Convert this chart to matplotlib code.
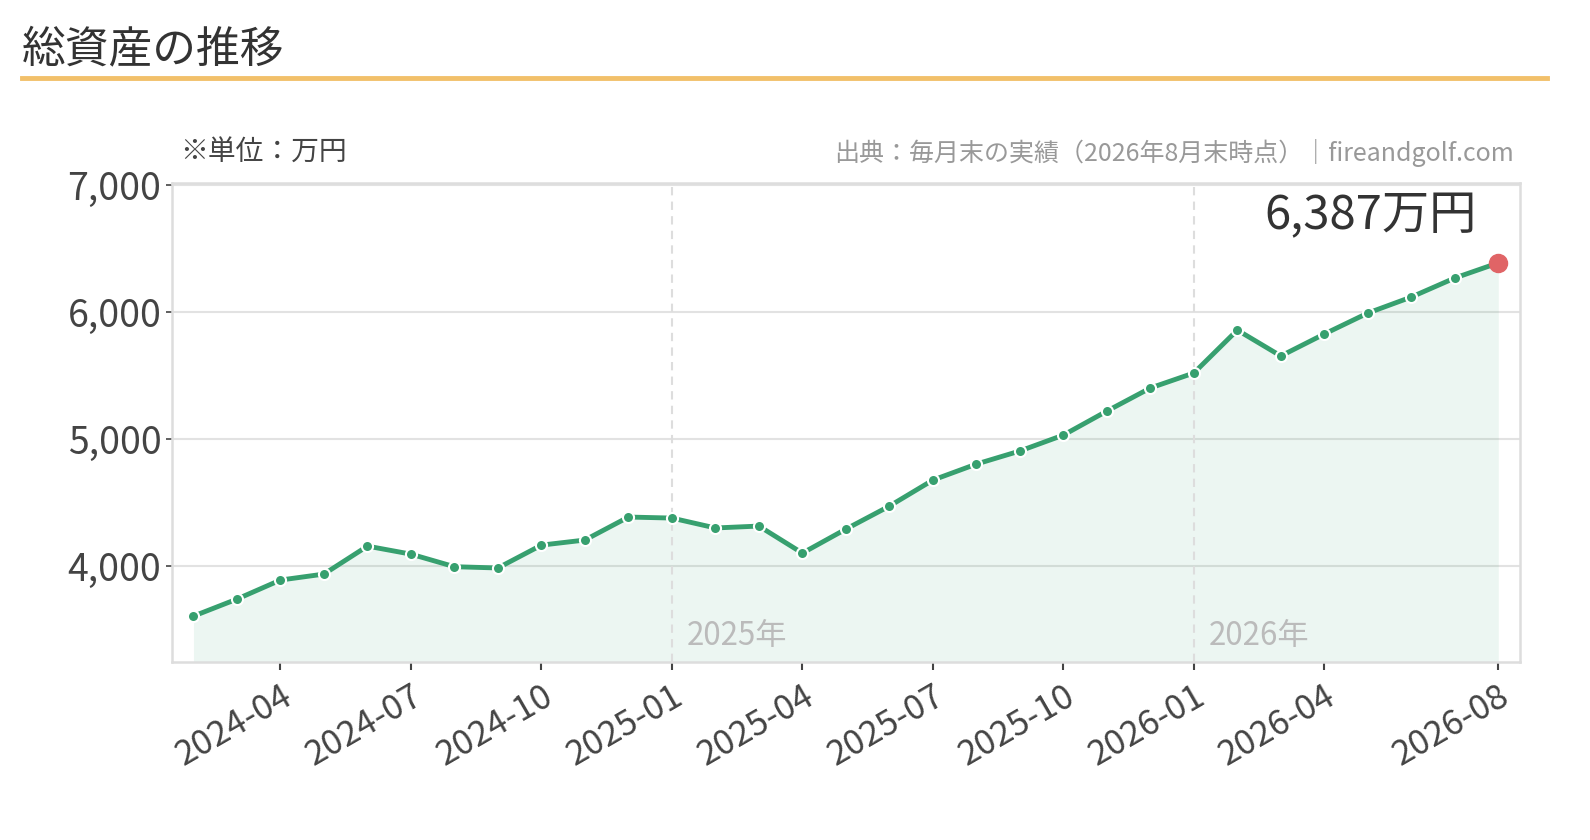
"""総資産の推移 (monthly total assets)"""
import matplotlib.pyplot as plt
import numpy as np

plt.rcParams['font.family'] = ['Noto Sans CJK JP', 'DejaVu Sans']

# data (万円), month starts 2024-02 .. 2026-08
months = [
    "2024-02", "2024-03", "2024-04", "2024-05", "2024-06", "2024-07",
    "2024-08", "2024-09", "2024-10", "2024-11", "2024-12", "2025-01",
    "2025-02", "2025-03", "2025-04", "2025-05", "2025-06", "2025-07",
    "2025-08", "2025-09", "2025-10", "2025-11", "2025-12", "2026-01",
    "2026-02", "2026-03", "2026-04", "2026-05", "2026-06", "2026-07",
    "2026-08",
]
assets = [
    3606, 3740, 3890, 3937, 4157, 4094, 3995, 3985, 4165, 4205, 4386,
    4378, 4300, 4315, 4102, 4291, 4472, 4677, 4803, 4906, 5031, 5220,
    5402, 5520, 5858, 5654, 5827, 5992, 6118, 6268, 6387,
]
tick_months = ["2024-04", "2024-07", "2024-10", "2025-01", "2025-04",
               "2025-07", "2025-10", "2026-01", "2026-04", "2026-08"]
year_marks = ["2025-01", "2026-01"]
year_labels = ["2025年", "2026年"]

green = "#37a06f"
x = np.arange(len(months))
y = np.array(assets)
ymin = y.min() * 0.9

fig = plt.figure(figsize=(15.9, 8.4), dpi=100)
ax = fig.add_axes([0.108, 0.212, 0.848, 0.570])

# title + underline
fig.text(0.014, 0.94, "総資産の推移", fontsize=31.5, color="#333333", va="center")
fig.add_artist(plt.Line2D([0.014, 0.973], [0.907, 0.907], color="#f2c06a", lw=3.5))
fig.text(0.113, 0.818, "※単位：万円", fontsize=20, color="#444444", va="center")
fig.text(0.952, 0.818, "出典：毎月末の実績（2026年8月末時点）｜fireandgolf.com",
         fontsize=18, color="#999999", va="center", ha="right")

ax.fill_between(x, y, ymin, color=green, alpha=0.09, lw=0)
ax.plot(x, y, color=green, lw=3.5, zorder=3)
ax.plot(x[:-1], y[:-1], "o", ms=8, mfc=green, mec="white", mew=1.5, zorder=4)
ax.plot(x[-1], y[-1], "o", ms=13, color="#e06466", zorder=5)
ax.text(x[-1] - 0.5, 6760, f"{assets[-1]:,}万円", fontsize=34, color="#333333",
        ha="right", va="center")

for m, lab in zip(year_marks, year_labels):
    i = months.index(m)
    ax.axvline(i, color="#dddddd", ls=(0, (4, 3)), lw=1.5, zorder=1)
    ax.text(i + 0.35, ymin + 205, lab, fontsize=22.5, color="#bbbbbb", va="center")

ax.set_xlim(-0.5, len(months) - 0.5)
ax.set_ylim(ymin, 7015)
ax.set_yticks([4000, 5000, 6000, 7000])
ax.set_yticklabels([f"{v:,}" for v in [4000, 5000, 6000, 7000]])
ax.set_xticks([months.index(m) for m in tick_months])
ax.set_xticklabels(tick_months, rotation=30, ha="right", rotation_mode="anchor")
ax.grid(axis="y", color="#e2e2e2", lw=1.5)
ax.set_axisbelow(True)
ax.tick_params(axis="y", labelsize=27, colors="#444444", length=4, width=1.2)
ax.tick_params(axis="x", labelsize=25, colors="#444444", length=6, width=1.5, pad=6)
for s in ax.spines.values():
    s.set_color("#dddddd")
    s.set_linewidth(1.8)

fig.savefig("out.png", dpi=100)
